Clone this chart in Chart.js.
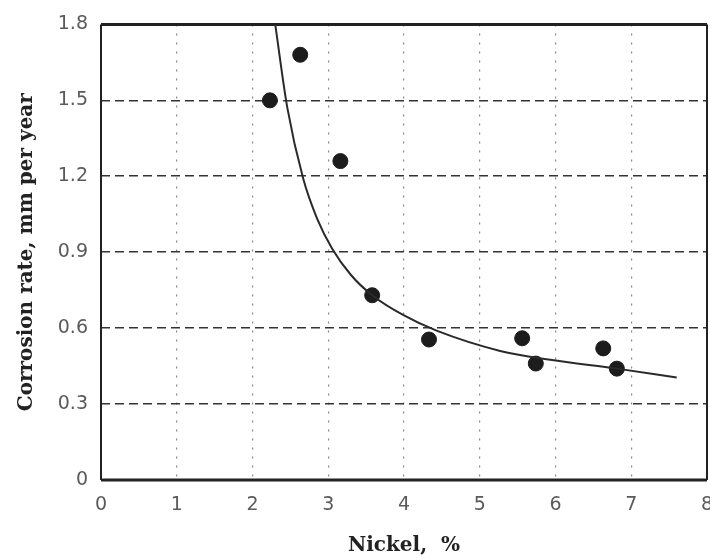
<!DOCTYPE html>
<html>
<head>
<meta charset="utf-8">
<script src="https://cdn.jsdelivr.net/npm/chart.js@4"></script>
<style>
html, body { margin: 0; padding: 0; background: #fff; }
#wrap { width: 710px; height: 558px; }
</style>
</head>
<body>
<div id="wrap"><canvas id="chart"></canvas></div>
<script>
// measured points
const nickelPts = [2.23, 2.63, 3.16, 3.58, 4.33, 5.56, 5.74, 6.63, 6.81];
const ratePts = [1.50, 1.68, 1.26, 0.73, 0.555, 0.56, 0.46, 0.52, 0.44];

// fitted curve
const curveNickel = [2.30, 2.46, 2.67, 2.85, 3.05, 3.30, 3.58, 4.00, 4.43, 5.27, 5.93, 6.81, 7.60];
const curveRate = [1.80, 1.47, 1.19, 1.035, 0.915, 0.81, 0.73, 0.65, 0.59, 0.51, 0.475, 0.44, 0.405];

const xTicks = [0, 1, 2, 3, 4, 5, 6, 7, 8];
const yTicks = [0, 0.3, 0.6, 0.9, 1.2, 1.5, 1.8];
const yTickLabels = ['0', '0.3', '0.6', '0.9', '1.2', '1.5', '1.8'];

const frame = {
    id: 'frame',
    beforeDatasetsDraw(chart) {
        const {ctx, chartArea: a} = chart;
        ctx.save();
        ctx.strokeStyle = '#222';
        ctx.lineWidth = 3;
        ctx.beginPath();
        ctx.moveTo(a.left, a.top);
        ctx.lineTo(a.right, a.top);
        ctx.moveTo(a.left, a.bottom);
        ctx.lineTo(a.right, a.bottom);
        ctx.stroke();
        ctx.lineWidth = 2;
        ctx.beginPath();
        ctx.moveTo(a.left, a.top);
        ctx.lineTo(a.left, a.bottom);
        ctx.moveTo(a.right, a.top);
        ctx.lineTo(a.right, a.bottom);
        ctx.stroke();
        ctx.restore();
    }
};

const ctx = document.getElementById('chart').getContext('2d');
new Chart(ctx, {
    type: 'scatter',
    data: {
        datasets: [
            {
                label: 'fit',
                data: curveNickel.map((x, i) => ({x, y: curveRate[i]})),
                showLine: true,
                borderColor: '#2a2a2a',
                borderWidth: 2,
                pointRadius: 0,
                cubicInterpolationMode: 'monotone',
                fill: false
            },
            {
                label: 'data',
                data: nickelPts.map((x, i) => ({x, y: ratePts[i]})),
                backgroundColor: '#1c1c1c',
                borderColor: '#1c1c1c',
                pointRadius: 7.5,
                pointHoverRadius: 7.5
            }
        ]
    },
    options: {
        responsive: true,
        maintainAspectRatio: false,
        animation: false,
        layout: {
            autoPadding: false,
            padding: {top: 20, right: 3, left: 0, bottom: 0}
        },
        plugins: {
            legend: {display: false},
            tooltip: {enabled: false}
        },
        scales: {
            x: {
                type: 'linear',
                min: 0,
                max: 8,
                afterBuildTicks: scale => { scale.ticks = xTicks.map(v => ({value: v})); },
                afterFit: scale => {
                    scale.height = 78;
                    scale.paddingLeft = 0;
                    scale.paddingRight = 0;
                },
                grid: {
                    drawTicks: false,
                    color: c => (c.tick && (c.tick.value === 0 || c.tick.value === 8)) ? 'rgba(0,0,0,0)' : '#888',
                    lineWidth: 1.2
                },
                border: {display: false, dash: [2, 7]},
                ticks: {
                    padding: 14,
                    color: '#5a5a5a',
                    font: {family: 'DejaVu Sans', size: 19},
                    callback: v => String(v)
                },
                title: {
                    display: true,
                    text: 'Nickel,  %',
                    color: '#222',
                    font: {family: 'DejaVu Serif', size: 20, weight: 'bold'},
                    padding: {top: 16, bottom: 0}
                }
            },
            y: {
                type: 'linear',
                min: 0,
                max: 1.8,
                afterBuildTicks: scale => { scale.ticks = yTicks.map(v => ({value: v})); },
                afterFit: scale => { scale.width = 101; },
                grid: {
                    drawTicks: false,
                    color: c => (c.tick && (c.tick.value === 0 || c.tick.value === 1.8)) ? 'rgba(0,0,0,0)' : '#333',
                    lineWidth: 1.6
                },
                border: {display: false, dash: [9, 5]},
                ticks: {
                    padding: 13,
                    color: '#5a5a5a',
                    font: {family: 'DejaVu Sans', size: 19},
                    callback: v => yTickLabels[yTicks.indexOf(v)] ?? String(v)
                },
                title: {
                    display: true,
                    text: 'Corrosion rate, mm per year',
                    color: '#222',
                    font: {family: 'DejaVu Serif', size: 20, weight: 'bold'},
                    padding: {top: 15, bottom: 0}
                }
            }
        }
    },
    plugins: [frame]
});
</script>
</body>
</html>
